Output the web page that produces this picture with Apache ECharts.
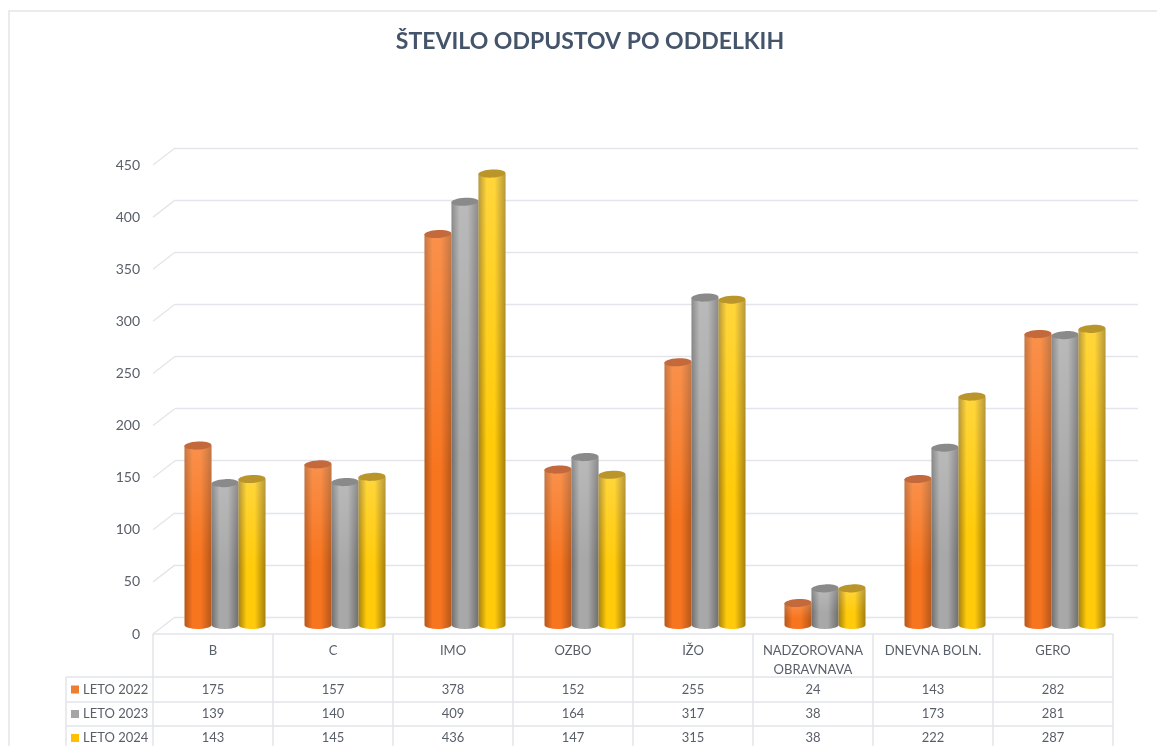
<!DOCTYPE html>
<html>
<head>
<meta charset="utf-8">
<style>
html, body { margin: 0; padding: 0; background: #fff; }
#chart { width: 1157px; height: 746px; }
</style>
<script src="https://cdn.jsdelivr.net/npm/echarts@6/dist/echarts.min.js"></script>
</head>
<body>
<div id="chart"></div>
<script>
const categories = ['B', 'C', 'IMO', 'OZBO', 'IŽO', 'NADZOROVANA\nOBRAVNAVA', 'DNEVNA BOLN.', 'GERO'];
const leto2022 = [175, 157, 378, 152, 255, 24, 143, 282];
const leto2023 = [139, 140, 409, 164, 317, 38, 173, 281];
const leto2024 = [143, 145, 436, 147, 315, 38, 222, 287];
const yTicks = [0, 50, 100, 150, 200, 250, 300, 350, 400, 450];

const textColor = '#595f69';
const lineColor = '#e3e5ea';
const font = 'Lato, "Open Sans", sans-serif';

// edge, mid and lid colours per series
const palette = [
    { name: 'LETO 2022', swatch: '#ed7d31', edge: '#b5571a', mid: '#f8751f', lid: '#c4693c', values: leto2022 },
    { name: 'LETO 2023', swatch: '#a5a5a5', edge: '#6f6f6f', mid: '#a8a8a8', lid: '#8a8a8a', values: leto2023 },
    { name: 'LETO 2024', swatch: '#ffc000', edge: '#a5800f', mid: '#ffcb0a', lid: '#b9952a', values: leto2024 }
];

const BAR_W = 27, DX = 12, TOP_DY = -6, BASE_DY = -9, RY = 4;

function cylinder(idx, pal) {
    return function (params, api) {
        const c = api.coord([api.value(0), api.value(1)]);
        const base = api.coord([api.value(0), 0]);
        const x = c[0] + DX + (idx - 1) * BAR_W - BAR_W / 2;
        const top = c[1] + TOP_DY;
        const bot = base[1] + BASE_DY;
        const body = new echarts.graphic.LinearGradient(0, 0, 1, 0, [
            { offset: 0, color: pal.edge },
            { offset: 0.3, color: pal.mid },
            { offset: 0.6, color: pal.mid },
            { offset: 1, color: pal.edge }
        ]);
        const shine = new echarts.graphic.LinearGradient(0, 0, 0, 1, [
            { offset: 0, color: 'rgba(255,255,255,0.2)' },
            { offset: 0.6, color: 'rgba(255,255,255,0)' }
        ]);
        const d = 'M' + x + ' ' + top +
            'L' + x + ' ' + bot +
            'A' + (BAR_W / 2) + ' ' + RY + ' 0 0 0 ' + (x + BAR_W) + ' ' + bot +
            'L' + (x + BAR_W) + ' ' + top + 'Z';
        const cx = x + BAR_W / 2;
        return {
            type: 'group',
            children: [
                { type: 'path', shape: { pathData: d }, style: { fill: body } },
                { type: 'path', shape: { pathData: d }, style: { fill: shine } },
                {
                    type: 'ellipse', shape: { cx: cx, cy: top, rx: BAR_W / 2, ry: RY },
                    originX: cx, originY: top, rotation: 0.05,
                    style: { fill: pal.lid }
                }
            ]
        };
    };
}

// short diagonal from each front tick to the back wall
function sideLine(params, api) {
    const c = api.coord([0, api.value(0)]);
    const x0 = params.coordSys.x;
    return {
        type: 'line',
        shape: { x1: x0, y1: c[1], x2: x0 + 22, y2: c[1] - 17 },
        style: { stroke: lineColor, lineWidth: 1.3 }
    };
}

// data table under the plot
const colX0 = 153, colW = 120, tableLeft = 66;
const rowY = [634, 677, 702, 726, 750];
const tableEls = [];
function hLine(x1, x2, y) {
    tableEls.push({ type: 'line', shape: { x1: x1, y1: y, x2: x2, y2: y }, style: { stroke: lineColor, lineWidth: 1.5 }, silent: true });
}
function vLine(x, y1, y2) {
    tableEls.push({ type: 'line', shape: { x1: x, y1: y1, x2: x, y2: y2 }, style: { stroke: lineColor, lineWidth: 1.5 }, silent: true });
}
const colEnd = colX0 + colW * categories.length;
hLine(colX0, colEnd, rowY[0]);
hLine(tableLeft, colEnd, rowY[1]);
hLine(tableLeft, colEnd, rowY[2]);
hLine(tableLeft, colEnd, rowY[3]);
vLine(tableLeft, rowY[1], rowY[4]);
for (let i = 0; i <= categories.length; i++) vLine(colX0 + i * colW, rowY[0], rowY[4]);
palette.forEach(function (p, r) {
    const cy = (rowY[r + 1] + rowY[r + 2]) / 2;
    tableEls.push({ type: 'rect', shape: { x: 71, y: cy - 4, width: 8, height: 8 }, style: { fill: p.swatch }, silent: true });
    tableEls.push({ type: 'text', x: 83, y: cy, style: { text: p.name, fill: textColor, font: '13px ' + font, textVerticalAlign: 'middle' }, silent: true });
    p.values.forEach(function (v, c) {
        tableEls.push({ type: 'text', x: colX0 + (c + 0.5) * colW, y: cy, style: { text: String(v), fill: textColor, font: '13px ' + font, textAlign: 'center', textVerticalAlign: 'middle' }, silent: true });
    });
});
// page frame
tableEls.push({ type: 'polyline', shape: { points: [[9, 746], [9, 11], [1157, 11]] }, style: { stroke: '#e3e3ea', fill: null, lineWidth: 1.5 }, silent: true });

const chart = echarts.init(document.getElementById('chart'));
chart.setOption({
    animation: false,
    backgroundColor: '#fff',
    title: {
        text: 'ŠTEVILO ODPUSTOV PO ODDELKIH',
        left: 585, top: 25, textAlign: 'center',
        textStyle: { color: '#44546a', fontFamily: font, fontSize: 23, fontWeight: 'bold' }
    },
    grid: [
        { left: 153, right: 44, top: 165, bottom: 112 },
        { left: 175, right: 19, top: 148, bottom: 129 }
    ],
    xAxis: [
        {
            type: 'category', gridIndex: 0, data: categories,
            axisLine: { show: false }, axisTick: { show: false },
            axisLabel: { color: textColor, fontFamily: font, fontSize: 13, margin: 7, lineHeight: 19, interval: 0, verticalAlign: 'top' }
        },
        { type: 'category', gridIndex: 1, data: categories, show: false }
    ],
    yAxis: [
        {
            type: 'value', gridIndex: 0, min: 0, max: 450, interval: 50,
            axisLine: { show: false }, axisTick: { show: false }, splitLine: { show: false },
            axisLabel: { color: textColor, fontFamily: font, fontSize: 14, margin: 13, padding: [5, 0, 0, 0] }
        },
        {
            type: 'value', gridIndex: 1, min: 0, max: 450, interval: 50,
            axisLine: { show: false }, axisTick: { show: false }, axisLabel: { show: false },
            splitLine: { lineStyle: { color: lineColor, width: 1.3 } }
        }
    ],
    series: [
        {
            type: 'custom', name: 'side', xAxisIndex: 0, yAxisIndex: 0, silent: true,
            coordinateSystem: 'cartesian2d',
            data: yTicks.map(function (t) { return [t]; }),
            encode: { y: 0 },
            renderItem: sideLine
        }
    ].concat(palette.map(function (p, i) {
        return {
            type: 'custom', name: p.name, xAxisIndex: 0, yAxisIndex: 0, silent: true,
            data: p.values.map(function (v, c) { return [c, v]; }),
            encode: { x: 0, y: 1 },
            renderItem: cylinder(i, p)
        };
    })),
    graphic: tableEls
});
</script>
</body>
</html>
